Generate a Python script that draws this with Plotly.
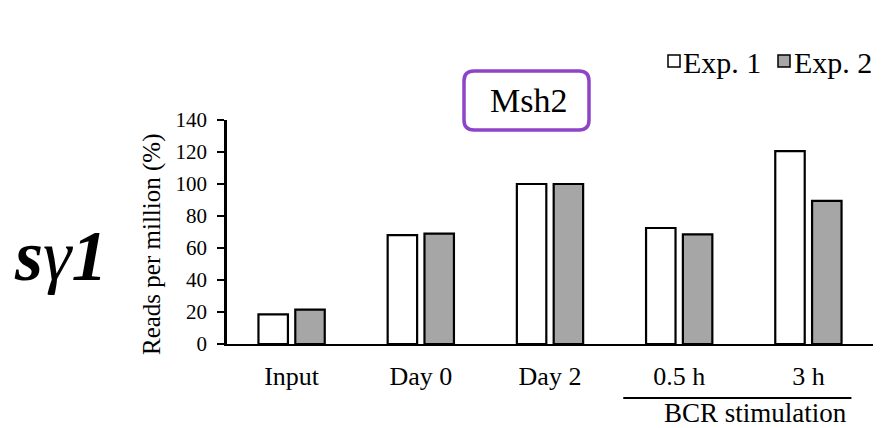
import plotly.graph_objects as go

categories = ["Input", "Day 0", "Day 2", "0.5 h", "3 h"]
exp1 = [18.5, 68, 100, 72.5, 120.5]
exp2 = [21.5, 69, 100, 68.5, 89.5]
series_names = ["Exp. 1", "Exp. 2"]
series_colors = ["white", "#A6A6A6"]
y_ticks = [0, 20, 40, 60, 80, 100, 120, 140]

FONT = "'Liberation Serif', 'Times New Roman', serif"

fig = go.Figure()
for name, vals, col in zip(series_names, [exp1, exp2], series_colors):
    fig.add_trace(go.Bar(x=categories, y=vals, name=name,
                         marker=dict(color=col, line=dict(color="black", width=2.2))))

W, H = 895, 428
ml, mr, mt, mb = 227, 22, 120, 84
PW, PH = W - ml - mr, H - mt - mb

def px(x):
    return (x - ml) / PW
def py(y):
    return (H - mb - y) / PH

fig.update_layout(
    width=W, height=H,
    margin=dict(l=ml, r=mr, t=mt, b=mb, autoexpand=False),
    paper_bgcolor="white", plot_bgcolor="white",
    barmode="group", bargap=0.43, bargroupgap=0.2,
    font=dict(family=FONT, color="black", size=20),
    showlegend=False,
    xaxis=dict(showline=True, linecolor="black", linewidth=2, ticks="",
               showgrid=False, zeroline=False, ticklabelstandoff=8,
               tickfont=dict(family=FONT, size=26, color="black"),
               range=[-0.5, 4.5]),
    yaxis=dict(range=[0, 140], tickvals=y_ticks, showline=True, linecolor="black",
               linewidth=2.5, ticks="outside", ticklen=7, tickwidth=2, tickcolor="black",
               showgrid=False, zeroline=False, ticklabelstandoff=6,
               tickfont=dict(family=FONT, size=21, color="black")),
)

# legend (manual, to keep icon next to text)
leg_sq_x = [668, 778]
leg_txt_x = [681, 792]
for name, col, sx, tx in zip(series_names, series_colors, leg_sq_x, leg_txt_x):
    fig.add_shape(type="rect", xref="paper", yref="paper",
                  x0=px(sx), x1=px(sx + 12), y0=py(67), y1=py(55),
                  fillcolor=col, line=dict(color="black", width=1.5))
    fig.add_annotation(text=name, xref="paper", yref="paper", x=px(tx), y=py(62),
                       xanchor="left", yanchor="middle", showarrow=False,
                       font=dict(family=FONT, size=30, color="black"))

# y-axis title
fig.add_annotation(text="Reads per million (%)", textangle=-90, xref="paper", yref="paper",
                   x=px(152), y=py(245), xanchor="center", yanchor="middle",
                   showarrow=False, font=dict(family=FONT, size=25, color="black"))

# big italic label
fig.add_annotation(text="<i><b>s</b>γ<b>1</b></i>", xref="paper", yref="paper",
                   x=px(60), y=py(256), xanchor="center", yanchor="middle",
                   showarrow=False, font=dict(family=FONT, size=72, color="black"))

# title box
bx0, bx1, by0, by1, r = 464, 589, 71, 130, 10
path = (f"M {px(bx0 + r)} {py(by0)} L {px(bx1 - r)} {py(by0)} "
        f"Q {px(bx1)} {py(by0)} {px(bx1)} {py(by0 + r)} "
        f"L {px(bx1)} {py(by1 - r)} Q {px(bx1)} {py(by1)} {px(bx1 - r)} {py(by1)} "
        f"L {px(bx0 + r)} {py(by1)} Q {px(bx0)} {py(by1)} {px(bx0)} {py(by1 - r)} "
        f"L {px(bx0)} {py(by0 + r)} Q {px(bx0)} {py(by0)} {px(bx0 + r)} {py(by0)} Z")
fig.add_shape(type="path", path=path, xref="paper", yref="paper",
              line=dict(color="#8E44C6", width=3.5))
fig.add_annotation(text="Msh2", xref="paper", yref="paper", x=px(528), y=py(100),
                   xanchor="center", yanchor="middle", showarrow=False,
                   font=dict(family=FONT, size=34, color="black"))

# BCR stimulation bracket
fig.add_shape(type="line", xref="x", yref="paper", x0=2.567, x1=4.333,
              y0=py(398), y1=py(398), line=dict(color="black", width=2))
fig.add_annotation(text="BCR stimulation", xref="x", yref="paper", x=3.59, y=py(413),
                   xanchor="center", yanchor="middle", showarrow=False,
                   font=dict(family=FONT, size=27, color="black"))

fig.write_html("out.html")
